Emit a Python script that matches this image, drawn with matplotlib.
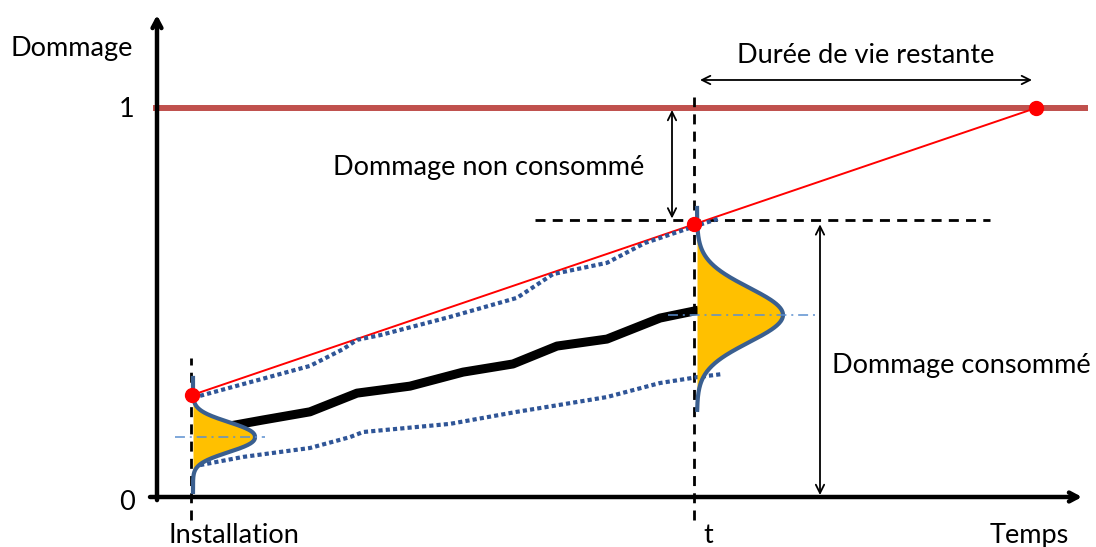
# schematic: damage accumulation and remaining life
import numpy as np
import matplotlib as mpl
import matplotlib.pyplot as plt

mpl.rcParams['font.family'] = ['Lato', 'DejaVu Sans']

# time axis in drawing units, damage axis 0..1
t_install, t_now, t_fail = 192, 694, 1036
d_install = 0.262          # upper bound of damage at installation
d_fail = 1.0

# mean damage path (black)
mean_t = [235, 263, 310, 357, 410, 463, 513, 557, 607, 660, 694]
mean_d = [0.185, 0.198, 0.219, 0.267, 0.285, 0.321, 0.342, 0.388, 0.406, 0.460, 0.478]

# upper / lower bounds (blue dotted)
upper_t = [200, 247, 310, 343, 357, 380, 450, 517, 553, 607, 645, 690, 718]
upper_d = [0.260, 0.293, 0.337, 0.380, 0.404, 0.416, 0.463, 0.512, 0.573, 0.602, 0.653, 0.692, 0.715]
lower_t = [200, 243, 310, 350, 363, 450, 517, 560, 607, 660, 697, 722]
lower_d = [0.082, 0.103, 0.126, 0.154, 0.167, 0.188, 0.219, 0.237, 0.257, 0.293, 0.308, 0.316]

# distributions at installation and at t: base, height, mean, spread, range, shape
bell_small = dict(base=193, amp=62, mu=0.154, s=0.05, lo=0.013, hi=0.306, p=2.3)
bell_big = dict(base=697, amp=86, mu=0.468, s=0.099, lo=0.224, hi=0.743, p=2.0)

fig = plt.figure(figsize=(10.96, 5.47), dpi=100)
ax = fig.add_axes([0, 0, 1, 1])
ax.set_xlim(0, 1096)
ax.set_ylim(-50 / 389, 497 / 389)
ax.axis('off')

fs = 19.5
blue = '#3A5F8F'

# axes with open arrow heads
ax.annotate('', xy=(157, 1.239), xytext=(157, -0.008),
            arrowprops=dict(arrowstyle='->,head_length=0.6,head_width=0.32', lw=3.2,
                            color='black', shrinkA=0, shrinkB=0), annotation_clip=False)
ax.annotate('', xy=(1082, 0), xytext=(150, 0),
            arrowprops=dict(arrowstyle='->,head_length=0.6,head_width=0.32', lw=3.2,
                            color='black', shrinkA=0, shrinkB=0), annotation_clip=False)

# failure threshold
ax.plot([153, 1088], [d_fail, d_fail], color='#C0504D', lw=4.3, solid_capstyle='butt', zorder=2)

# dashed guides
d_now = d_install + (d_fail - d_install) * (t_now - t_install) / (t_fail - t_install)
ax.plot([t_install - 1, t_install - 1], [-0.06, 0.357], color='black', lw=2,
        ls=(0, (3.6, 2.6)), zorder=3)
ax.plot([t_now, t_now], [-0.06, 1.028], color='black', lw=2, ls=(0, (3.6, 2.6)), zorder=3)
ax.plot([535, 990], [d_now + 0.01, d_now + 0.01], color='black', lw=2,
        ls=(0, (3.6, 2.6)), zorder=3)

# linear damage projection
ax.plot([t_install, t_fail], [d_install, d_fail], color='red', lw=1.4, zorder=4)

# bounds and mean path
ax.plot(upper_t, upper_d, color='#2F5597', lw=3, ls=(0, (1, 0.75)), zorder=5)
ax.plot(lower_t, lower_d, color='#2F5597', lw=3, ls=(0, (1, 0.75)), zorder=5)
ax.plot(mean_t, mean_d, color='black', lw=6.5, solid_joinstyle='round', zorder=5)

# distributions
for b, x0, x1 in [(bell_small, 175, 265), (bell_big, 668, 818)]:
    yy = np.linspace(b['lo'], b['hi'], 300)
    xx = b['base'] + b['amp'] * np.exp(-(np.abs(yy - b['mu']) / b['s']) ** b['p'])
    ax.fill_betweenx(yy, b['base'], xx, color='#FFC000', lw=0, zorder=6)
    ax.plot(xx, yy, color=blue, lw=3, zorder=7)
    ax.plot([x0, x1], [b['mu'], b['mu']], color='#5B8FD0', lw=1.1,
            ls=(0, (6.5, 3.2, 1.3, 3.2)), zorder=8)

# key points
ax.plot([t_install, t_now, t_fail], [d_install, d_now, d_fail], 'o', color='red',
        markersize=10, zorder=9)

# double arrows
arr = dict(arrowstyle='<->,head_length=0.6,head_width=0.3', lw=1.3, color='black',
           shrinkA=0, shrinkB=0)
ax.annotate('', xy=(672, 0.995), xytext=(672, d_now + 0.015), arrowprops=arr)
ax.annotate('', xy=(820, d_now + 0.0), xytext=(820, 0.005), arrowprops=arr)
ax.annotate('', xy=(700, 1.072), xytext=(1032, 1.072), arrowprops=arr)

# labels
ax.text(72, 1.154, 'Dommage', fontsize=fs, ha='center', va='center')
ax.text(127, 0.995, '1', fontsize=fs, ha='center', va='center')
ax.text(127, -0.015, '0', fontsize=fs, ha='center', va='center')
ax.text(234, -0.10, 'Installation', fontsize=fs, ha='center', va='center')
ax.text(708, -0.10, 't', fontsize=fs, ha='center', va='center')
ax.text(1029, -0.10, 'Temps', fontsize=fs, ha='center', va='center')
ax.text(866, 1.136, 'Durée de vie restante', fontsize=fs, ha='center', va='center')
ax.text(489, 0.848, 'Dommage non consommé', fontsize=fs, ha='center', va='center')
ax.text(832, 0.337, 'Dommage consommé', fontsize=fs, ha='left', va='center')

fig.savefig('out.png', dpi=100)
